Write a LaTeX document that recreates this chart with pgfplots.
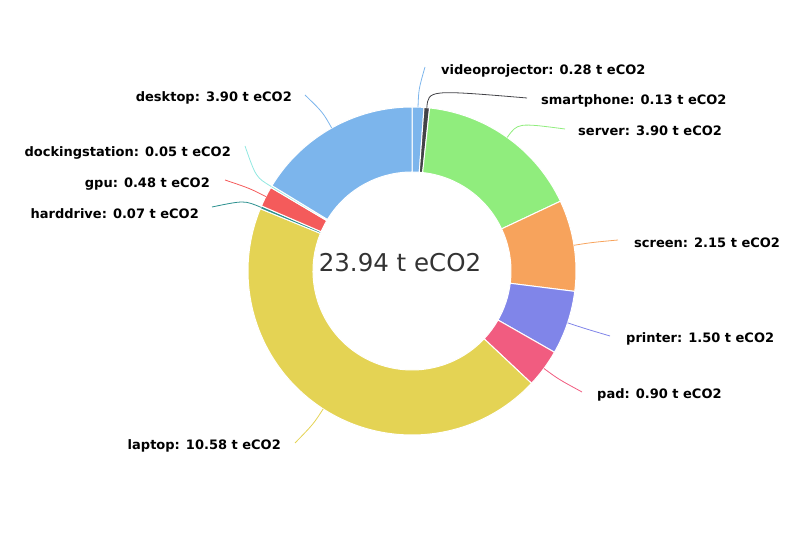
\documentclass[border=0pt]{standalone}
\usepackage{fontspec}
\setmainfont{DejaVu Sans}
\usepackage{pgfplots}
\usepackage{pgfplotstable}
\pgfplotsset{compat=1.18}

\definecolor{hcA}{HTML}{7CB5EC}
\definecolor{hcB}{HTML}{434348}
\definecolor{hcC}{HTML}{90ED7D}
\definecolor{hcD}{HTML}{F7A35C}
\definecolor{hcE}{HTML}{8085E9}
\definecolor{hcF}{HTML}{F15C80}
\definecolor{hcG}{HTML}{E4D354}
\definecolor{hcH}{HTML}{2B908F}
\definecolor{hcI}{HTML}{F45B5B}
\definecolor{hcJ}{HTML}{91E8E1}
\definecolor{txt}{HTML}{333333}

% slices clockwise from the top; label position and connector end in px
\pgfplotstableread{
name           value col lx  ly  anc  ex  ey
videoprojector 0.28  hcA 441 463 west 425 467
smartphone     0.13  hcB 541 433 west 527 436
server         3.90  hcC 578 403 west 565 405
screen         2.15  hcD 634 291 west 618 294
printer        1.50  hcE 626 195 west 610 198
pad            0.90  hcF 597 139 west 582 142
laptop         10.58 hcG 281 88  east 295 91
harddrive      0.07  hcH 199 320 east 212 327
gpu            0.48  hcI 210 350 east 225 354
dockingstation 0.05  hcJ 231 381 east 245 388
desktop        3.90  hcA 292 436 east 305 439
}\slices

\begin{document}
\begin{tikzpicture}
\begin{axis}[
  scale only axis, width=800pt, height=534pt,
  xmin=0, xmax=800, ymin=0, ymax=534,
  hide axis, clip=false,
]
\addplot[draw=none] coordinates {(0,0) (800,534)};
\pgfplotsextra{
  \coordinate (C) at (axis cs:412,263);
  \pgfplotstablegetrowsof{\slices}
  \pgfmathtruncatemacro\last{\pgfplotsretval-1}
  % total
  \def\total{0}
  \pgfplotsforeachungrouped \i in {0,...,\last}{
    \pgfplotstablegetelem{\i}{value}\of\slices
    \pgfmathsetmacro\total{\total+\pgfplotsretval}
  }
  \def\acc{0}
  \pgfplotsforeachungrouped \i in {0,...,\last}{
    \pgfplotstablegetelem{\i}{value}\of\slices \let\v\pgfplotsretval
    \pgfplotstablegetelem{\i}{col}\of\slices \let\c\pgfplotsretval
    \pgfplotstablegetelem{\i}{name}\of\slices \let\nm\pgfplotsretval
    \pgfplotstablegetelem{\i}{lx}\of\slices \let\lx\pgfplotsretval
    \pgfplotstablegetelem{\i}{ly}\of\slices \let\ly\pgfplotsretval
    \pgfplotstablegetelem{\i}{anc}\of\slices \let\anc\pgfplotsretval
    \pgfplotstablegetelem{\i}{ex}\of\slices \let\ex\pgfplotsretval
    \pgfplotstablegetelem{\i}{ey}\of\slices \let\ey\pgfplotsretval
    \pgfmathsetmacro\aA{90-\acc/\total*360}
    \pgfmathsetmacro\acc{\acc+\v}
    \pgfmathsetmacro\aB{90-\acc/\total*360}
    \pgfmathsetmacro\aM{(\aA+\aB)/2}
    \fill[fill=\c, draw=white, line width=1pt]
      ([shift={(\aA:164pt)}]C) arc[start angle=\aA, end angle=\aB, radius=164pt]
      -- ([shift={(\aB:99pt)}]C) arc[start angle=\aB, end angle=\aA, radius=99pt]
      -- cycle;
    \draw[draw=\c, line width=0.8pt]
      ([shift={(\aM:164pt)}]C) .. controls ([shift={(\aM:182pt)}]C) .. (axis cs:\ex,\ey);
    \node[anchor=\anc, inner sep=0pt, font=\fontsize{13}{15}\selectfont\bfseries, text=black]
      at (axis cs:\lx,\ly) {\nm: \v{} t eCO2};
  }
  \node[font=\fontsize{24.5}{28}\selectfont, text=txt] at (axis cs:400,271) {23.94 t eCO2};
}
\end{axis}
\end{tikzpicture}
\end{document}
